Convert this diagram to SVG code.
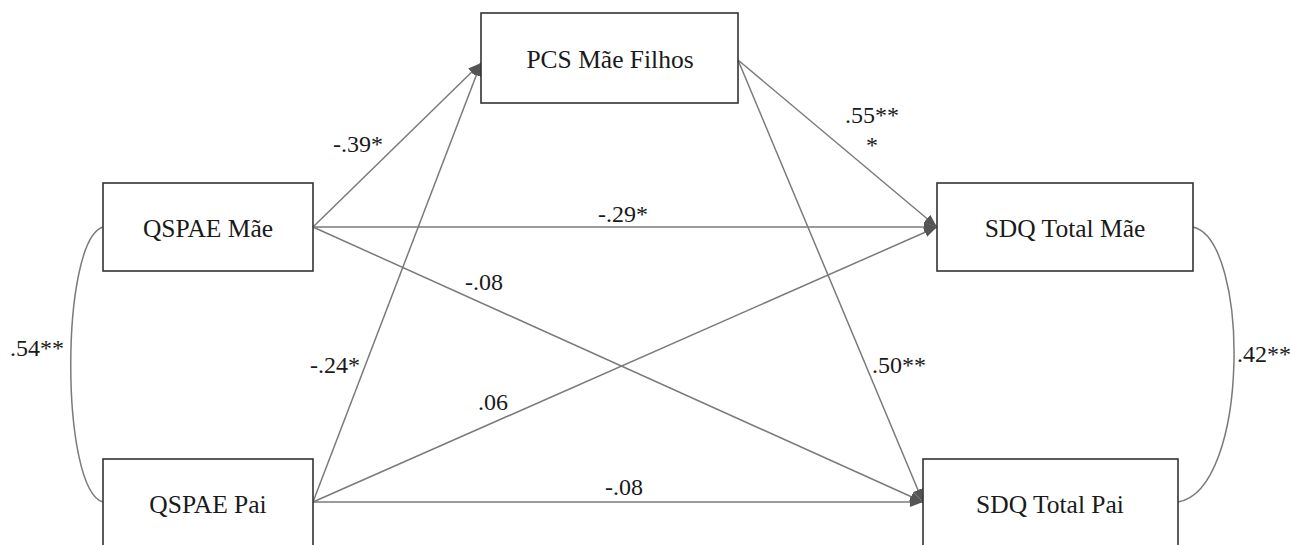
<svg xmlns="http://www.w3.org/2000/svg" width="1290" height="545" viewBox="0 0 1290 545">
<style>
.box{fill:#fff;stroke:#333;stroke-width:1.6}
.t{font-family:'Liberation Serif','DejaVu Serif','Times New Roman',Times,serif;font-size:24px;fill:#1a1a1a}
.n{font-size:25.5px}
.c{stroke:#7a7a7a;stroke-width:1.5;fill:none}
</style>
<defs>
<marker id="ah" markerUnits="userSpaceOnUse" markerWidth="14" markerHeight="12" viewBox="0 0 14 12" refX="13" refY="6" orient="auto">
<path d="M0,1 L13,6 L0,11 Z" fill="#555"/>
</marker>
</defs>
<rect width="1290" height="545" fill="#fff"/>
<g id="connectors">
<line class="c" x1="313" y1="227" x2="481" y2="63" marker-end="url(#ah)"/>
<line class="c" x1="313" y1="502" x2="481" y2="63" marker-end="url(#ah)"/>
<line class="c" x1="738" y1="60" x2="937" y2="227" marker-end="url(#ah)"/>
<line class="c" x1="738" y1="60" x2="923" y2="502" marker-end="url(#ah)"/>
<line class="c" x1="313" y1="227" x2="937" y2="227" marker-end="url(#ah)"/>
<line class="c" x1="313" y1="227" x2="923" y2="502" marker-end="url(#ah)"/>
<line class="c" x1="313" y1="502" x2="937" y2="227" marker-end="url(#ah)"/>
<line class="c" x1="313" y1="502" x2="923" y2="502" marker-end="url(#ah)"/>
<path class="c" d="M103,227 C60,240 60,490 103,502"/>
<path class="c" d="M1193,227 C1250,240 1250,490 1178,502"/>
<text class="t" x="333" y="152">-.39*</text>
<text class="t" x="598" y="222">-.29*</text>
<text class="t" x="465" y="290">-.08</text>
<text class="t" x="845" y="123">.55**</text>
<text class="t" x="866" y="153">*</text>
<text class="t" x="10" y="356">.54**</text>
<text class="t" x="1237" y="362">.42**</text>
<text class="t" x="310" y="373">-.24*</text>
<text class="t" x="478" y="410">.06</text>
<text class="t" x="872" y="373">.50**</text>
<text class="t" x="605" y="495">-.08</text>
</g>
<g id="pcs"><rect class="box" x="481" y="13" width="257" height="90"/><text class="t n" x="610" y="68" text-anchor="middle">PCS Mãe Filhos</text></g>
<g id="qspae-mae"><rect class="box" x="103" y="183" width="210" height="88"/><text class="t n" x="208" y="237" text-anchor="middle">QSPAE Mãe</text></g>
<g id="sdq-mae"><rect class="box" x="937" y="183" width="256" height="88"/><text class="t n" x="1065" y="237" text-anchor="middle">SDQ Total Mãe</text></g>
<g id="qspae-pai"><rect class="box" x="103" y="459" width="210" height="100"/><text class="t n" x="208" y="513" text-anchor="middle">QSPAE Pai</text></g>
<g id="sdq-pai"><rect class="box" x="923" y="459" width="255" height="100"/><text class="t n" x="1050" y="513" text-anchor="middle">SDQ Total Pai</text></g>
</svg>
